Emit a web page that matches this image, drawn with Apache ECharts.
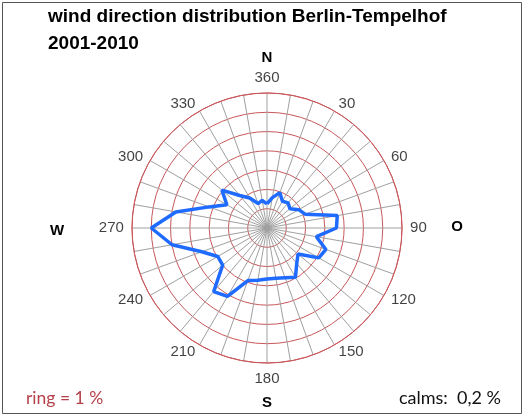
<!DOCTYPE html>
<html><head><meta charset="utf-8">
<script src="https://cdn.jsdelivr.net/npm/echarts@6/dist/echarts.min.js"></script>
<style>html,body{margin:0;padding:0;background:#fff}#c{width:527px;height:418px}</style>
</head><body><div id="c"></div>
<script>
const directions = [0,10,20,30,40,50,60,70,80,90,100,110,120,130,140,150,160,170,180,190,200,210,220,230,240,250,260,270,280,290,300,310,320,330,340,350];
const frequency = [1.25,1.6,1.95,1.6,1.7,1.55,1.9,2.1,3.7,3.6,2.6,3.25,3.1,2.1,2.4,2.95,2.75,2.65,2.65,2.75,2.9,4.1,4.3,3.0,2.95,3.6,5.0,6.0,4.8,3.2,2.4,3.05,2.2,1.8,1.35,1.45];
const ringMax = 7;
const tickAngles = [0,30,60,90,120,150,180,210,240,270,300,330];
const tickLabels = ['360','30','60','90','120','150','180','210','240','270','300','330'];
const titleLines = ['wind direction distribution Berlin-Tempelhof', '2001-2010'];
const compass = ['N','O','S','W'];

const pts = directions.map((d,i)=>[frequency[i], d]);
pts.push([frequency[0], directions[0]]);

// tick labels as text anchored just outside the outer ring
const labelData = tickAngles.map((a,i)=>{
  const vertical = (a % 180) === 0;
  const right = a > 0 && a < 180;
  return {
    value:[ringMax * (vertical ? 1.115 : 1.06), a],
    label:{formatter:tickLabels[i], align: vertical ? 'center' : (right ? 'left' : 'right'), verticalAlign:'middle'}
  };
});

const chart = echarts.init(document.getElementById('c'), null, {renderer:'canvas'});
chart.setOption({
  animation:false,
  backgroundColor:'#fff',
  polar:{center:[267,228], radius:135},
  angleAxis:{
    type:'value', min:0, max:360, interval:30, startAngle:90, clockwise:true,
    axisLine:{show:true, lineStyle:{color:'#c9575a', width:1}},
    axisTick:{show:false},
    axisLabel:{show:false},
    splitLine:{show:true, lineStyle:{color:'#a0a0a0', width:1}},
    minorTick:{show:false, splitNumber:3},
    minorSplitLine:{show:true, lineStyle:{color:'#a0a0a0', width:1}}
  },
  radiusAxis:{
    type:'value', min:0, max:ringMax, interval:1,
    axisLine:{show:false}, axisTick:{show:false}, axisLabel:{show:false},
    splitLine:{show:true, lineStyle:{color:'#c9575a', width:1}}
  },
  series:[{
    type:'line', coordinateSystem:'polar', data:pts, symbol:'none', smooth:false,
    lineStyle:{color:'#1f6bff', width:3.5}, z:10
  },{
    type:'scatter', coordinateSystem:'polar', data:labelData, symbolSize:0, silent:true, clip:false,
    label:{show:true, position:'inside', fontSize:15, fontFamily:'"Liberation Sans", Arial', color:'#111'}
  }],
  graphic:[
    {type:'rect', shape:{x:2.5,y:2.5,width:519,height:411}, style:{fill:null, stroke:'#555', lineWidth:1}, silent:true},
    {type:'text', left:48, top:7, style:{text:titleLines[0], font:'bold 19px "Liberation Sans", Arial', fill:'#000'}},
    {type:'text', left:48, top:34, style:{text:titleLines[1], font:'bold 19px "Liberation Sans", Arial', fill:'#000'}},
    {type:'text', x:267, y:58, style:{text:compass[0], font:'bold 15px "Liberation Sans", Arial', fill:'#000', align:'center', verticalAlign:'middle'}},
    {type:'text', x:457, y:227, style:{text:compass[1], font:'bold 15px "Liberation Sans", Arial', fill:'#000', align:'center', verticalAlign:'middle'}},
    {type:'text', x:267, y:403, style:{text:compass[2], font:'bold 15px "Liberation Sans", Arial', fill:'#000', align:'center', verticalAlign:'middle'}},
    {type:'text', x:57, y:231, style:{text:compass[3], font:'bold 15px "Liberation Sans", Arial', fill:'#000', align:'center', verticalAlign:'middle'}},
    {type:'text', x:26, y:398, style:{text:'ring = 1 %', font:'17.5px Lato, "Open Sans", sans-serif', fill:'#b5404a', align:'left', verticalAlign:'middle'}},
    {type:'text', x:501, y:398, style:{text:'calms:  0,2 %', font:'18px Lato, "Open Sans", sans-serif', fill:'#111', align:'right', verticalAlign:'middle'}}
  ]
});
</script></body></html>
